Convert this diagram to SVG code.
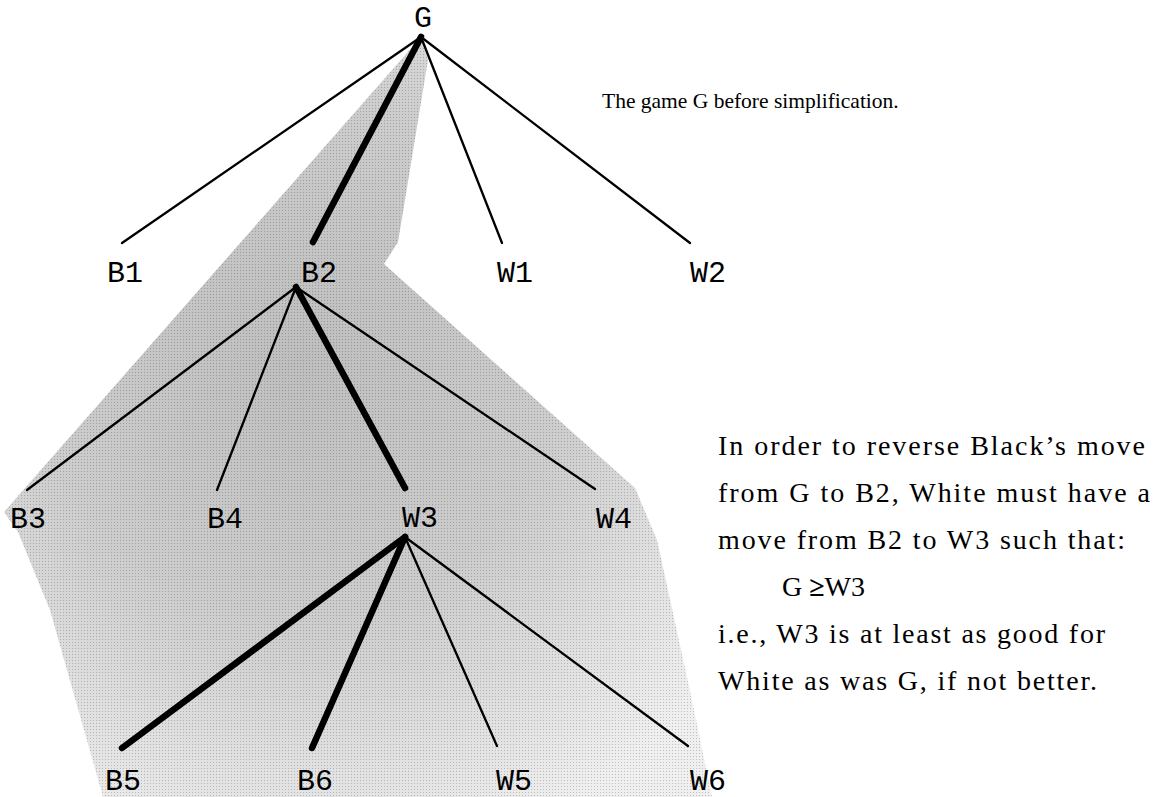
<svg xmlns="http://www.w3.org/2000/svg" width="1159" height="797" viewBox="0 0 1159 797">
<style>
.lbl{font-family:"Liberation Mono","DejaVu Sans Mono",monospace;font-size:30px;fill:#000;text-anchor:middle}
.txt{font-family:"Liberation Serif","Times New Roman",serif;font-size:28px;fill:#000}
.thin{stroke:#000;stroke-width:2.3;fill:none;stroke-linecap:round}
.thick{stroke:#000;stroke-width:6.5;fill:none;stroke-linecap:round}
</style>
<defs>
<radialGradient id="shade" gradientUnits="userSpaceOnUse" cx="300" cy="360" r="520">
<stop offset="0" stop-color="#bcbcbc"/>
<stop offset="0.5" stop-color="#cbcbcb"/>
<stop offset="1" stop-color="#efefef"/>
</radialGradient>
<pattern id="dots" width="3" height="3" patternUnits="userSpaceOnUse">
<rect x="0" y="0" width="1" height="1" fill="#000"/>
<rect x="1.5" y="1.5" width="1" height="1" fill="#fff"/>
</pattern>
</defs>
<rect width="1159" height="797" fill="#fff"/>
<g id="shading">
<polygon points="421,37 4,512 18,532 50,610 103,797 712,797 692,700 657,540 635,488 384,264 398,242 428,60" fill="url(#shade)"/>
<polygon points="421,37 4,512 18,532 50,610 103,797 712,797 692,700 657,540 635,488 384,264 398,242 428,60" fill="url(#dots)" opacity="0.2"/>
</g>
<g id="connectors">
<line class="thin" x1="421" y1="37" x2="122" y2="243"/>
<line class="thick" x1="421" y1="37" x2="313" y2="242"/>
<line class="thin" x1="421" y1="37" x2="502" y2="243"/>
<line class="thin" x1="421" y1="37" x2="690" y2="243"/>
<line class="thin" x1="296" y1="287" x2="27" y2="490"/>
<line class="thin" x1="296" y1="287" x2="217" y2="490"/>
<line class="thick" x1="296" y1="287" x2="405" y2="488"/>
<line class="thin" x1="296" y1="287" x2="595" y2="489"/>
<line class="thick" x1="405" y1="537" x2="122" y2="748"/>
<line class="thick" x1="405" y1="537" x2="312" y2="748"/>
<line class="thin" x1="405" y1="537" x2="497" y2="746"/>
<line class="thin" x1="405" y1="537" x2="688" y2="746"/>
</g>
<g id="node-G"><text class="lbl" x="423" y="27">G</text></g>
<g id="node-B1"><text class="lbl" x="125" y="282">B1</text></g>
<g id="node-B2"><text class="lbl" x="319" y="282">B2</text></g>
<g id="node-W1"><text class="lbl" x="515" y="282">W1</text></g>
<g id="node-W2"><text class="lbl" x="708" y="282">W2</text></g>
<g id="node-B3"><text class="lbl" x="28" y="528">B3</text></g>
<g id="node-B4"><text class="lbl" x="225" y="528">B4</text></g>
<g id="node-W3"><text class="lbl" x="420" y="527">W3</text></g>
<g id="node-W4"><text class="lbl" x="614" y="528">W4</text></g>
<g id="node-B5"><text class="lbl" x="123" y="790">B5</text></g>
<g id="node-B6"><text class="lbl" x="315" y="790">B6</text></g>
<g id="node-W5"><text class="lbl" x="514" y="790">W5</text></g>
<g id="node-W6"><text class="lbl" x="708" y="790">W6</text></g>
<g id="title"><text class="txt" x="602" y="108" style="font-size:21.5px">The game G before simplification.</text></g>
<g id="explanation">
<text class="txt" x="718" y="455" textLength="427" lengthAdjust="spacing">In order to reverse Black’s move</text>
<text class="txt" x="718" y="502" textLength="432" lengthAdjust="spacing">from G to B2, White must have a</text>
<text class="txt" x="718" y="549" textLength="407" lengthAdjust="spacing">move from B2 to W3 such that:</text>
<text class="txt" x="782" y="596">G <tspan font-weight="bold">≥</tspan>W3</text>
<text class="txt" x="718" y="643" textLength="387" lengthAdjust="spacing">i.e., W3 is at least as good for</text>
<text class="txt" x="718" y="690" textLength="379" lengthAdjust="spacing">White as was G, if not better.</text>
</g>
</svg>
